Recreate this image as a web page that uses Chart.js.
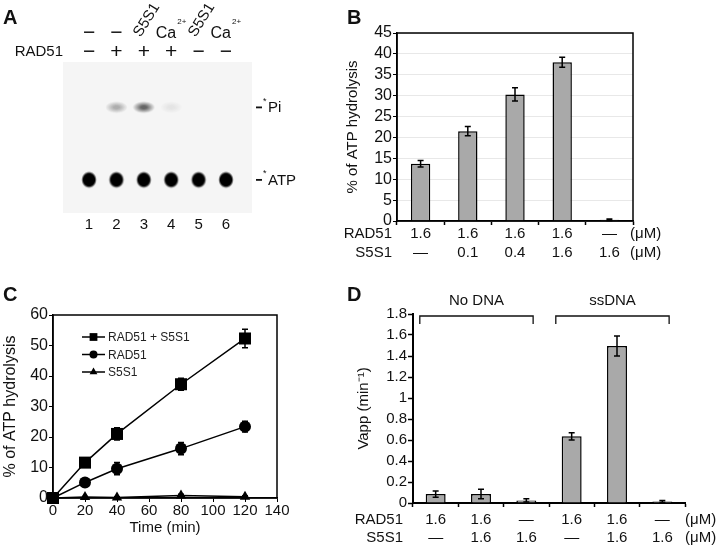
<!DOCTYPE html>
<html>
<head>
<meta charset="utf-8">
<script src="https://cdn.jsdelivr.net/npm/chart.js@4.4.1/dist/chart.umd.min.js"></script>
<style>
  body { margin: 0; background: #fff; }
  #wrap { position: relative; width: 720px; height: 551px; overflow: hidden; font-family: 'Liberation Sans', Arial, sans-serif; }
  #wrap canvas { position: absolute; }
  .tag { position: absolute; font-weight: bold; font-size: 20px; line-height: 1; color: #111; }
</style>
</head>
<body>
<div id="wrap">
  <canvas id="gel" width="300" height="280" style="left:0;top:0"></canvas>
  <canvas id="chartB" width="420" height="275" style="left:300px;top:0"></canvas>
  <canvas id="chartC" width="360" height="271" style="left:0;top:280px"></canvas>
  <canvas id="chartD" width="420" height="271" style="left:300px;top:280px"></canvas>
  <div class="tag" style="left:3px;top:7px">A</div>
  <div class="tag" style="left:347px;top:7px">B</div>
  <div class="tag" style="left:3px;top:284px">C</div>
  <div class="tag" style="left:347px;top:284px">D</div>
</div>
<script>
// --- data ---
// A: TLC gel, six lanes
const lanes = [1, 2, 3, 4, 5, 6];
const laneAdditive = ['—', '—', 'S5S1', 'Ca2+', 'S5S1', 'Ca2+'];
const laneRad51 = ['−', '+', '+', '+', '−', '−'];
const piSignal = [0, 0.35, 0.7, 0.08, 0, 0];
const atpSignal = [1, 1, 1, 1, 1, 1];
const piRf = 0.70;
const atpRf = 0.22;

// B: ATP hydrolysis vs S5S1 concentration
const bRad51 = ['1.6', '1.6', '1.6', '1.6', '—'];
const bS5S1 = ['—', '0.1', '0.4', '1.6', '1.6'];
const bValues = [13.7, 21.5, 30.3, 38.0, 0.3];
const bErrors = [0.8, 1.1, 1.6, 1.2, 0.2];

// C: time course
const cTime = [0, 20, 40, 80, 120];
const cBoth = [0, 11.6, 21.0, 37.3, 52.3];
const cBothErr = [0, 1.5, 2.0, 2.0, 3.0];
const cRad51 = [0, 5.1, 9.6, 16.2, 23.4];
const cRad51Err = [0, 1.0, 2.0, 2.0, 1.8];
const cS5S1 = [0, 0.3, 0.2, 0.8, 0.4];
const cS5S1Err = [0, 0.2, 0.2, 0.4, 0.3];

// D: Vapp with / without DNA
const dRad51 = ['1.6', '1.6', '—', '1.6', '1.6', '—'];
const dS5S1 = ['—', '1.6', '1.6', '—', '1.6', '1.6'];
const dValues = [0.085, 0.085, 0.025, 0.635, 1.495, 0.015];
const dErrors = [0.03, 0.045, 0.015, 0.035, 0.095, 0.01];
const dGroups = ['No DNA', 'ssDNA'];
const dGroupOf = [0, 0, 0, 1, 1, 1];

const FONT = "'Liberation Sans', Arial, sans-serif";
const BAR_GRAY = '#a9a9a9';
Chart.defaults.font.family = FONT;
Chart.defaults.color = '#111';

const font = (size, weight) => `${weight || 'normal'} ${size}px ${FONT}`;

// --- helpers ---
function spotImage(rx, ry, shade, alpha, hard) {
  const c = document.createElement('canvas');
  c.width = Math.ceil(rx * 2 + 8);
  c.height = Math.ceil(ry * 2 + 8);
  const g = c.getContext('2d');
  g.translate(c.width / 2, c.height / 2);
  g.scale(rx / ry, 1);
  const grad = g.createRadialGradient(0, 0, 0, 0, 0, ry + 2);
  const col = a => `rgba(${shade},${shade},${shade},${a})`;
  grad.addColorStop(0, col(alpha));
  grad.addColorStop(hard, col(alpha));
  grad.addColorStop(1, col(0));
  g.fillStyle = grad;
  g.beginPath();
  g.arc(0, 0, ry + 2, 0, Math.PI * 2);
  g.fill();
  return c;
}

function drawMarker(ctx, style, x, y, r) {
  ctx.beginPath();
  if (style === 'rect') {
    const s = r * Math.SQRT1_2;
    ctx.rect(x - s, y - s, 2 * s, 2 * s);
  } else if (style === 'circle') {
    ctx.arc(x, y, r, 0, Math.PI * 2);
  } else {
    ctx.moveTo(x, y - r);
    ctx.lineTo(x + r * 0.866, y + r * 0.5);
    ctx.lineTo(x - r * 0.866, y + r * 0.5);
    ctx.closePath();
  }
  ctx.fill();
}

// error bars for bar charts and scatter lines
function errorBarPlugin(hook, cap) {
  return {
    id: 'errorBars',
    [hook](chart) {
      const ctx = chart.ctx;
      const ys = chart.scales.y;
      ctx.save();
      ctx.strokeStyle = '#000';
      ctx.lineWidth = 1.5;
      chart.data.datasets.forEach((ds, di) => {
        if (!ds.errors) return;
        chart.getDatasetMeta(di).data.forEach((el, i) => {
          const v = ds.data[i];
          const val = typeof v === 'object' ? v.y : v;
          const e = ds.errors[i];
          if (!e) return;
          const y1 = ys.getPixelForValue(val + e);
          const y2 = ys.getPixelForValue(Math.max(0, val - e));
          ctx.beginPath();
          ctx.moveTo(el.x, y1); ctx.lineTo(el.x, y2);
          ctx.moveTo(el.x - cap, y1); ctx.lineTo(el.x + cap, y1);
          ctx.moveTo(el.x - cap, y2); ctx.lineTo(el.x + cap, y2);
          ctx.stroke();
        });
      });
      ctx.restore();
    }
  };
}

// "RAD51" / "S5S1" row names and unit next to the multi-line tick labels
function rowLabelPlugin(names, unit, gapLeft, unitShift, lineH) {
  return {
    id: 'rowLabels',
    afterDraw(chart) {
      const ctx = chart.ctx;
      const xs = chart.scales.x;
      const g = xs.options.grid;
      const top = xs.top + (g.drawTicks ? g.tickLength : 0) + xs.options.ticks.padding;
      ctx.save();
      ctx.font = font(15);
      ctx.fillStyle = '#111';
      ctx.textBaseline = 'middle';
      names.forEach((n, i) => {
        const y = top + lineH * (i + 0.5);
        ctx.textAlign = 'right';
        ctx.fillText(n, chart.chartArea.left - gapLeft, y);
        ctx.textAlign = 'left';
        ctx.fillText(unit, chart.chartArea.right + unitShift, y);
      });
      ctx.restore();
    }
  };
}

const boxPlugin = {
  id: 'box',
  afterDraw(chart) {
    const { ctx, chartArea: a } = chart;
    ctx.save();
    ctx.strokeStyle = '#000';
    ctx.lineWidth = 1.5;
    ctx.strokeRect(a.left, a.top, a.right - a.left, a.bottom - a.top);
    ctx.restore();
  }
};

// --- A: gel ---
const atpImgs = atpSignal.map(s => spotImage(6, 6.5, 0, s, 0.72));
const piImgs = piSignal.map(s => spotImage(7.5, 4, 40, s, 0.25));

const gelPlugin = {
  id: 'gelDecor',
  beforeDatasetsDraw(chart) {
    const { ctx, chartArea: a } = chart;
    ctx.save();
    ctx.fillStyle = '#f5f5f5';
    ctx.fillRect(a.left, a.top, a.right - a.left, a.bottom - a.top);
    ctx.restore();
  },
  afterDraw(chart) {
    const { ctx, chartArea: a } = chart;
    const xs = chart.scales.x, ys = chart.scales.y;
    ctx.save();
    ctx.fillStyle = '#111';
    ctx.textBaseline = 'middle';
    lanes.forEach((l, i) => {
      const x = xs.getPixelForValue(l);
      // additive row
      const add = laneAdditive[i];
      if (add === 'S5S1') {
        ctx.save();
        ctx.translate(x + 3, 20);
        ctx.rotate(-58 * Math.PI / 180);
        ctx.font = font(15);
        ctx.textAlign = 'center';
        ctx.fillText(add, 0, 0);
        ctx.restore();
      } else if (add === 'Ca2+') {
        ctx.font = font(16);
        ctx.textAlign = 'right';
        ctx.fillText('Ca', x + 5, a.top - 28);
        ctx.font = font(8);
        ctx.textAlign = 'left';
        ctx.fillText('2+', x + 6, a.top - 40);
      } else {
        ctx.font = font(21);
        ctx.textAlign = 'center';
        ctx.fillText('−', x, a.top - 29);
      }
      // RAD51 row
      ctx.font = font(21);
      ctx.textAlign = 'center';
      ctx.fillText(laneRad51[i], x, a.top - 10);
      // lane numbers
      ctx.font = font(15);
      ctx.fillText(String(l), x, a.bottom + 12);
    });
    ctx.font = font(15);
    ctx.textAlign = 'right';
    ctx.fillText('RAD51', a.left, a.top - 10);
    // band markers
    [['Pi', piRf], ['ATP', atpRf]].forEach(([name, rf]) => {
      const y = ys.getPixelForValue(rf);
      ctx.fillRect(a.right + 4, y - 0.8, 6, 1.8);
      ctx.font = font(9);
      ctx.textAlign = 'left';
      ctx.fillText('*', a.right + 11, y - 6);
      ctx.font = font(15);
      ctx.fillText(name, a.right + 16, y + 1);
    });
    ctx.restore();
  },
  beforeDatasetDraw(chart) { chart.ctx.save(); chart.ctx.filter = 'blur(0.6px)'; },
  afterDatasetDraw(chart) { chart.ctx.restore(); }
};

new Chart(document.getElementById('gel'), {
  type: 'scatter',
  data: {
    datasets: [
      { label: 'ATP', data: lanes.map(l => ({ x: l, y: atpRf })), pointStyle: c => atpImgs[c.dataIndex], pointRadius: 6 },
      { label: 'Pi', data: lanes.map(l => ({ x: l, y: piRf })), pointStyle: c => piImgs[c.dataIndex], pointRadius: 6 }
    ]
  },
  options: {
    responsive: false, animation: false, devicePixelRatio: 1,
    layout: { padding: { left: 63, right: 48, top: 62, bottom: 67 } },
    plugins: { legend: { display: false }, tooltip: { enabled: false } },
    scales: {
      x: { type: 'linear', min: 0.05, max: 6.95, display: false },
      y: { min: 0, max: 1, display: false }
    }
  },
  plugins: [gelPlugin]
});

// --- B ---
new Chart(document.getElementById('chartB'), {
  type: 'bar',
  data: {
    labels: bRad51.map((r, i) => [r, bS5S1[i]]),
    datasets: [{
      data: bValues, errors: bErrors,
      backgroundColor: BAR_GRAY, borderColor: '#000', borderWidth: 1.5,
      categoryPercentage: 1, barPercentage: 0.41
    }]
  },
  options: {
    responsive: false, animation: false, devicePixelRatio: 1,
    layout: { padding: { top: 33, right: 87, left: 0, bottom: 0 } },
    plugins: { legend: { display: false }, tooltip: { enabled: false } },
    scales: {
      x: {
        grid: { offset: true, drawOnChartArea: false, tickLength: 4, tickColor: '#000', tickWidth: 1.5 },
        border: { color: '#000', width: 1.5 },
        ticks: { font: { size: 15, lineHeight: '19px' }, padding: -1, color: '#111', maxRotation: 0, autoSkip: false },
        afterFit: s => { s.height = 54; }
      },
      y: {
        min: 0, max: 45,
        ticks: { stepSize: 5, autoSkip: false, font: { size: 16 }, padding: 1, color: '#111' },
        grid: { color: '#e8e8e8', tickColor: '#000', tickLength: 4 },
        border: { color: '#000', width: 1.5 },
        title: { display: true, text: '% of ATP hydrolysis', font: { size: 15 }, padding: { top: 44, bottom: 0 }, color: '#111' },
        afterFit: s => { s.width = 97; }
      }
    }
  },
  plugins: [errorBarPlugin('afterDatasetsDraw', 3), boxPlugin, rowLabelPlugin(['RAD51', 'S5S1'], '(μM)', 5, -3, 19)]
});

// --- C ---
const cSeries = [
  { label: 'RAD51 + S5S1', values: cBoth, errors: cBothErr, style: 'rect', r: 8.5, lr: 5.5 },
  { label: 'RAD51', values: cRad51, errors: cRad51Err, style: 'circle', r: 6, lr: 4 },
  { label: 'S5S1', values: cS5S1, errors: cS5S1Err, style: 'triangle', r: 6, lr: 4.5 }
];

const legendC = {
  id: 'legendC',
  afterDraw(chart) {
    const { ctx, chartArea: a } = chart;
    ctx.save();
    ctx.fillStyle = '#000';
    ctx.strokeStyle = '#000';
    ctx.lineWidth = 1.5;
    ctx.font = font(12);
    ctx.textBaseline = 'middle';
    ctx.textAlign = 'left';
    cSeries.forEach((s, i) => {
      const y = a.top + 22 + i * 17.5;
      const x0 = a.left + 29, x1 = a.left + 52;
      ctx.beginPath(); ctx.moveTo(x0, y); ctx.lineTo(x1, y); ctx.stroke();
      drawMarker(ctx, s.style, (x0 + x1) / 2, y, s.lr);
      ctx.fillStyle = '#222';
      ctx.fillText(s.label, x1 + 3, y + 1);
      ctx.fillStyle = '#000';
    });
    ctx.restore();
  }
};

new Chart(document.getElementById('chartC'), {
  type: 'scatter',
  data: {
    datasets: cSeries.map(s => ({
      label: s.label,
      data: cTime.map((t, i) => ({ x: t, y: s.values[i] })),
      errors: s.errors,
      showLine: true, clip: false,
      borderColor: '#000', borderWidth: 1.5,
      backgroundColor: '#000',
      pointStyle: s.style, pointRadius: s.r, pointBorderWidth: 0
    }))
  },
  options: {
    responsive: false, animation: false, devicePixelRatio: 1,
    layout: { padding: { top: 35, right: 83, left: 0, bottom: 0 } },
    plugins: { legend: { display: false }, tooltip: { enabled: false } },
    scales: {
      x: {
        type: 'linear', min: 0, max: 140,
        ticks: { stepSize: 20, autoSkip: false, font: { size: 15 }, padding: 0, color: '#111' },
        grid: { drawOnChartArea: false, tickLength: 4, tickColor: '#000' },
        border: { color: '#000', width: 1.5 },
        title: { display: true, text: 'Time (min)', font: { size: 15 }, padding: { top: 0, bottom: 14 }, color: '#111' },
        afterFit: s => { s.height = 53; }
      },
      y: {
        min: 0, max: 60,
        ticks: { stepSize: 10, autoSkip: false, font: { size: 16 }, padding: 1, color: '#111' },
        grid: { drawOnChartArea: false, tickLength: 4, tickColor: '#000' },
        border: { color: '#000', width: 1.5 },
        title: { display: true, text: '% of ATP hydrolysis', font: { size: 16 }, padding: { top: 1, bottom: 0 }, color: '#111' },
        afterFit: s => { s.width = 53; }
      }
    }
  },
  plugins: [errorBarPlugin('beforeDatasetsDraw', 3), boxPlugin, legendC]
});

// --- D ---
const bracketPlugin = {
  id: 'brackets',
  afterDraw(chart) {
    const { ctx, chartArea: a } = chart;
    const xs = chart.scales.x;
    ctx.save();
    ctx.strokeStyle = '#111';
    ctx.lineWidth = 1.3;
    ctx.fillStyle = '#111';
    ctx.font = font(15);
    ctx.textAlign = 'center';
    ctx.textBaseline = 'middle';
    dGroups.forEach((name, g) => {
      const idx = dGroupOf.map((v, i) => v === g ? i : -1).filter(i => i >= 0);
      const x0 = xs.getPixelForValue(idx[0] - 0.35);
      const x1 = xs.getPixelForValue(idx[idx.length - 1] + 0.15);
      const y = a.top + 2;
      ctx.beginPath();
      ctx.moveTo(x0, y + 8); ctx.lineTo(x0, y); ctx.lineTo(x1, y); ctx.lineTo(x1, y + 8);
      ctx.stroke();
      ctx.fillText(name, (x0 + x1) / 2, a.top - 13);
    });
    ctx.restore();
  }
};

new Chart(document.getElementById('chartD'), {
  type: 'bar',
  data: {
    labels: dRad51.map((r, i) => [r, dS5S1[i]]),
    datasets: [{
      data: dValues, errors: dErrors,
      backgroundColor: BAR_GRAY, borderColor: '#000', borderWidth: 1.5,
      categoryPercentage: 1, barPercentage: 0.44
    }]
  },
  options: {
    responsive: false, animation: false, devicePixelRatio: 1,
    layout: { padding: { top: 34, right: 35, left: 0, bottom: 0 } },
    plugins: { legend: { display: false }, tooltip: { enabled: false } },
    scales: {
      x: {
        grid: { offset: true, drawOnChartArea: false, tickLength: 4, tickColor: '#000', tickWidth: 1.5 },
        border: { color: '#000', width: 2 },
        ticks: { font: { size: 15, lineHeight: '18px' }, padding: 4, color: '#111', maxRotation: 0, autoSkip: false },
        afterFit: s => { s.height = 48; }
      },
      y: {
        min: 0, max: 1.8,
        ticks: { stepSize: 0.2, autoSkip: false, font: { size: 15 }, padding: 1, color: '#111', callback: v => String(Math.round(v * 10) / 10) },
        grid: { drawOnChartArea: false, tickColor: '#000', tickLength: 5, tickWidth: 1.5 },
        border: { color: '#000', width: 2 },
        title: { display: true, text: 'Vapp (min⁻¹)', font: { size: 15 }, padding: { top: 55, bottom: 0 }, color: '#111' },
        afterFit: s => { s.width = 113; }
      }
    }
  },
  plugins: [errorBarPlugin('afterDatasetsDraw', 3), bracketPlugin, rowLabelPlugin(['RAD51', 'S5S1'], '(μM)', 10, 0, 18)]
});
</script>
</body>
</html>
